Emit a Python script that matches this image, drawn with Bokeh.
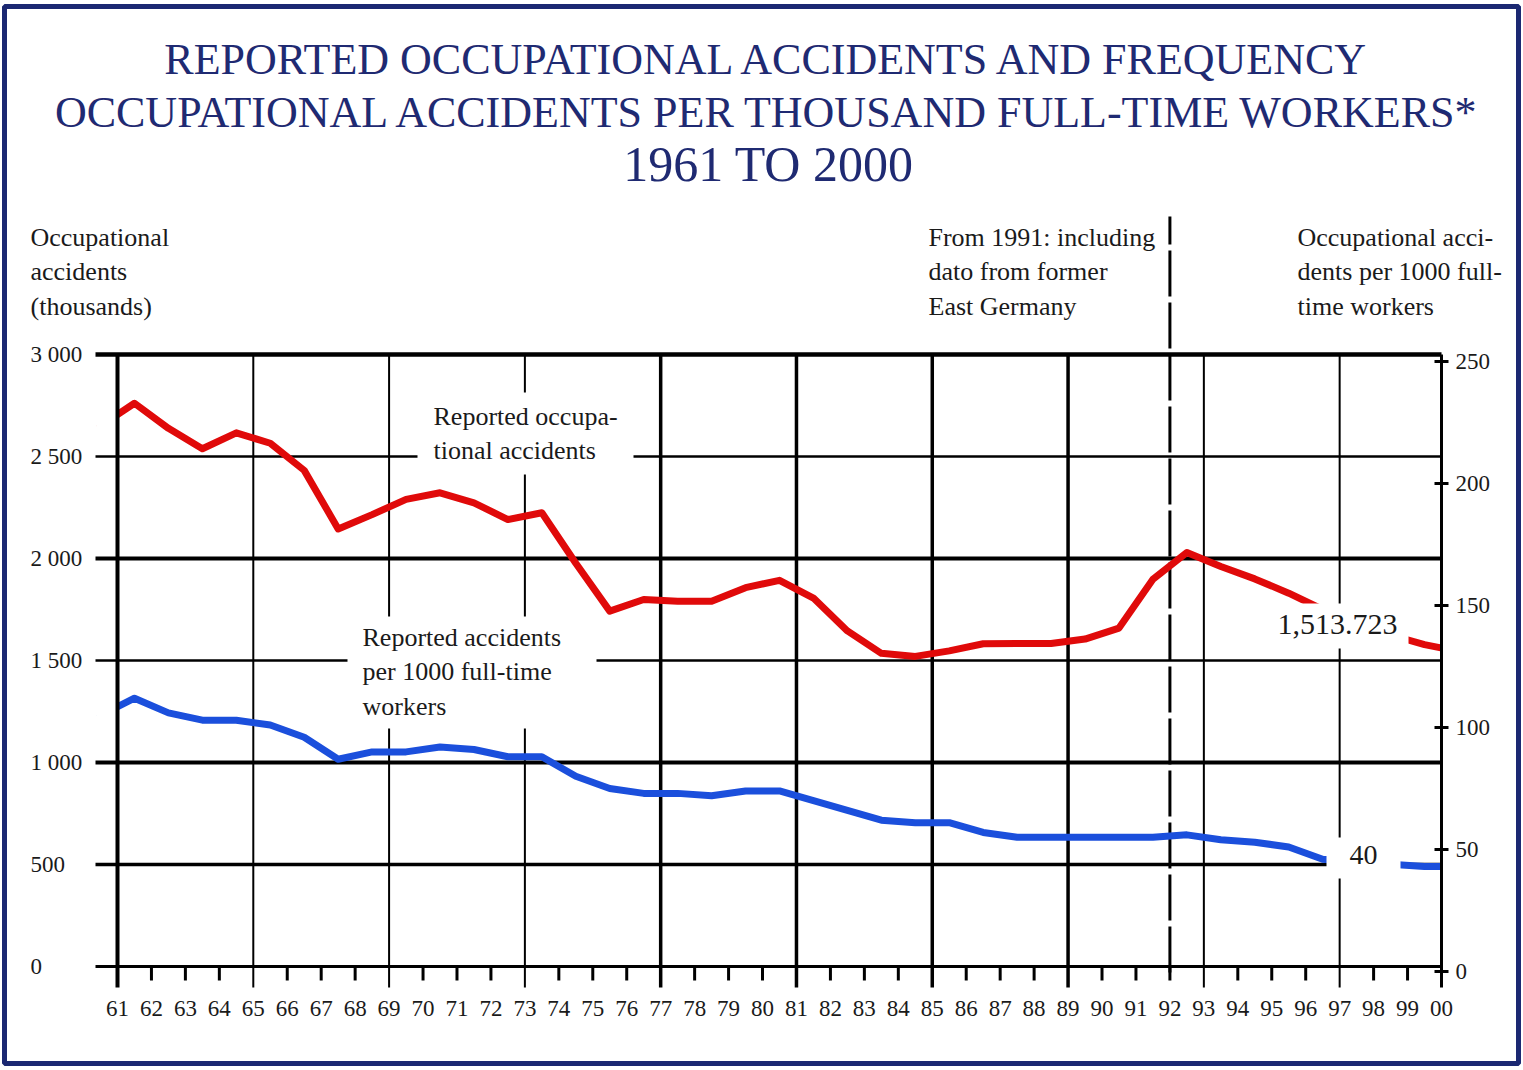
from bokeh.plotting import figure
from bokeh.models import Range1d, Label
from bokeh.core.properties import value
from bokeh.embed import file_html
from bokeh.resources import INLINE

# ---------------- data ----------------
years = list(range(1960, 2001))  # 1960 only shows as the clipped start of the lines
accidents_thousands = [2650, 2761, 2638, 2538, 2616, 2565, 2432, 2145, 2215, 2290,
                       2322, 2273, 2191, 2224, 1977, 1742, 1799, 1791, 1791, 1857,
                       1893, 1806, 1645, 1535, 1520, 1547, 1582, 1583, 1583, 1605,
                       1659, 1898, 2029, 1961, 1900, 1830, 1750, 1690, 1625, 1578,
                       1545]
accidents_per_1000 = [105, 112, 106, 103, 103, 101, 96, 87, 90, 90,
                      92, 91, 88, 88, 80, 75, 73, 73, 72, 74,
                      74, 70, 66, 62, 61, 61, 57, 55, 55, 55,
                      55, 55, 56, 54, 53, 51, 46, 45, 44, 43,
                      43]
year_ticks = list(range(1961, 2001))
year_tick_labels = ["61", "62", "63", "64", "65", "66", "67", "68", "69", "70",
                    "71", "72", "73", "74", "75", "76", "77", "78", "79", "80",
                    "81", "82", "83", "84", "85", "86", "87", "88", "89", "90",
                    "91", "92", "93", "94", "95", "96", "97", "98", "99", "00"]
left_ticks = [0, 500, 1000, 1500, 2000, 2500, 3000]
left_tick_labels = ["0", "500", "1 000", "1 500", "2 000", "2 500", "3 000"]
right_ticks = [0, 50, 100, 150, 200, 250]
right_tick_labels = ["0", "50", "100", "150", "200", "250"]
grid_years = [1965, 1969, 1973, 1977, 1981, 1985, 1989, 1993, 1997]
break_year = 1992

# ---------------- geometry helpers (picture pixel -> data) ----------------
def xd(px):
    return 1961 + (px - 117) * 39 / 1324

def yd(py):
    return (966 - py) * 3000 / 612

def rd(py):
    return (971 - py) * 250 / 610

RED = "#e00a0a"
BLUE = "#1b4fdc"
NAVY = "#1f2a72"
INK = "#1a1a1a"
FONT = "Liberation Serif"
W, H = 1521, 1066

p = figure(width=W, height=H,
           x_range=Range1d(xd(0), xd(W)), y_range=Range1d(yd(H), yd(0)),
           x_axis_location=None, y_axis_location=None,
           output_backend="svg", toolbar_location=None,
           min_border=0, min_border_left=0, min_border_right=0,
           min_border_top=0, min_border_bottom=0)
p.extra_y_ranges = {"per1000": Range1d(rd(H), rd(0))}
p.xgrid.visible = False
p.ygrid.visible = False
p.outline_line_color = None
p.background_fill_color = "white"
p.border_fill_color = "white"

# page border
p.quad(left=[xd(4)], right=[xd(1518)], top=[yd(6)], bottom=[yd(1063)],
       fill_color=None, line_color="#1b2872", line_width=5)

# ---------------- grid lines ----------------
bottom_L = yd(987)
vwidth = [2 if y in (1965, 1969, 1973, 1993, 1997) else 3.5 for y in grid_years]
p.segment(x0=grid_years, y0=[bottom_L] * len(grid_years),
          x1=grid_years, y1=[3000] * len(grid_years),
          line_color="black", line_width=vwidth)

hwidth_map = {0: 3, 500: 3.5, 1000: 4, 1500: 2.5, 2000: 4, 2500: 2.5, 3000: 4.5}
p.segment(x0=[xd(95)] * len(left_ticks), y0=left_ticks,
          x1=[2000] * len(left_ticks), y1=left_ticks,
          line_color="black", line_width=[hwidth_map[t] for t in left_ticks])

minor_years = [y for y in year_ticks if y not in grid_years and y not in (1961, 2000)]
p.segment(x0=minor_years, y0=[0] * len(minor_years),
          x1=minor_years, y1=[yd(980)] * len(minor_years),
          line_color="black", line_width=3)

p.segment(x0=[break_year], y0=[yd(972)], x1=[break_year], y1=[yd(216)],
          line_color="black", line_width=3, line_dash="46 6")

# ---------------- data lines (plotted at mid-year) ----------------
xs = [y + 0.5 for y in years]
p.line(xs, accidents_thousands, line_color=RED, line_width=7,
       line_join="round", line_cap="round")
p.line(xs, accidents_per_1000, y_range_name="per1000", line_color=BLUE,
       line_width=7, line_join="round", line_cap="round")

# white boxes: behind the in-plot texts, and outside the axes (clip the line ends)
p.quad(left=[xd(417), xd(347), xd(1268), xd(1326), xd(96), xd(96), 2000, 2000],
       right=[xd(633), xd(596), xd(1408), xd(1400), 1961, 1961, xd(1462), xd(1462)],
       top=[yd(392), yd(616), yd(603), yd(837), yd(393), yd(690), yd(636), yd(855)],
       bottom=[yd(474), yd(728), yd(648), yd(878), yd(442), yd(732), yd(664), yd(880)],
       fill_color="white", line_color=None)

# ---------------- axis lines and ticks ----------------
p.segment(x0=[1961, 2000], y0=[bottom_L, bottom_L], x1=[1961, 2000], y1=[3000, 3000],
          line_color="black", line_width=[4, 3])
p.segment(x0=[xd(1434)] * len(right_ticks), y0=right_ticks,
          x1=[xd(1448)] * len(right_ticks), y1=right_ticks,
          y_range_name="per1000", line_color="black", line_width=3)

# ---------------- tick labels ----------------
p.text(x=[xd(30)] * len(left_ticks), y=left_ticks, text=left_tick_labels,
       text_align="left", text_baseline="middle", text_font=value(FONT),
       text_font_size=value("23px"), text_color=INK)
p.text(x=[xd(1455)] * len(right_ticks), y=right_ticks, text=right_tick_labels,
       y_range_name="per1000", text_align="left", text_baseline="middle",
       text_font=value(FONT), text_font_size=value("23px"), text_color=INK)
p.text(x=year_ticks, y=[yd(1008)] * len(year_ticks), text=year_tick_labels,
       text_align="center", text_baseline="middle", text_font=value(FONT),
       text_font_size=value("23px"), text_color=INK)

# ---------------- title ----------------
for txt, py, size in [("REPORTED OCCUPATIONAL ACCIDENTS AND FREQUENCY", 59, "44px"),
                      ("OCCUPATIONAL ACCIDENTS PER THOUSAND FULL-TIME WORKERS*", 112, "44px"),
                      ("1961 TO 2000", 163, "50px")]:
    p.add_layout(Label(x=xd(768), y=yd(py), text=txt, text_align="center",
                       text_baseline="alphabetic", text_font=FONT,
                       text_font_size=size, text_color=NAVY))

# ---------------- annotations ----------------
notes = [
    ("Occupational\naccidents\n(thousands)", 30, 222),
    ("From 1991: including\ndato from former\nEast Germany", 928, 222),
    ("Occupational acci-\ndents per 1000 full-\ntime workers", 1297, 222),
    ("Reported occupa-\ntional accidents", 433, 401),
    ("Reported accidents\nper 1000 full-time\nworkers", 362, 622),
]
for txt, px, py in notes:
    p.add_layout(Label(x=xd(px), y=yd(py), text=txt, text_align="left",
                       text_baseline="top", text_font=FONT, text_font_size="26px",
                       text_color=INK, text_line_height=1.2))

p.add_layout(Label(x=xd(1277), y=yd(624), text="1,513.723", text_align="left",
                   text_baseline="alphabetic", text_font=FONT, text_font_size="30px",
                   text_color=INK))
p.add_layout(Label(x=xd(1349), y=yd(854), text="40", text_align="left",
                   text_baseline="alphabetic", text_font=FONT, text_font_size="28px",
                   text_color=INK))

open("out.html", "w").write(file_html(p, INLINE))
